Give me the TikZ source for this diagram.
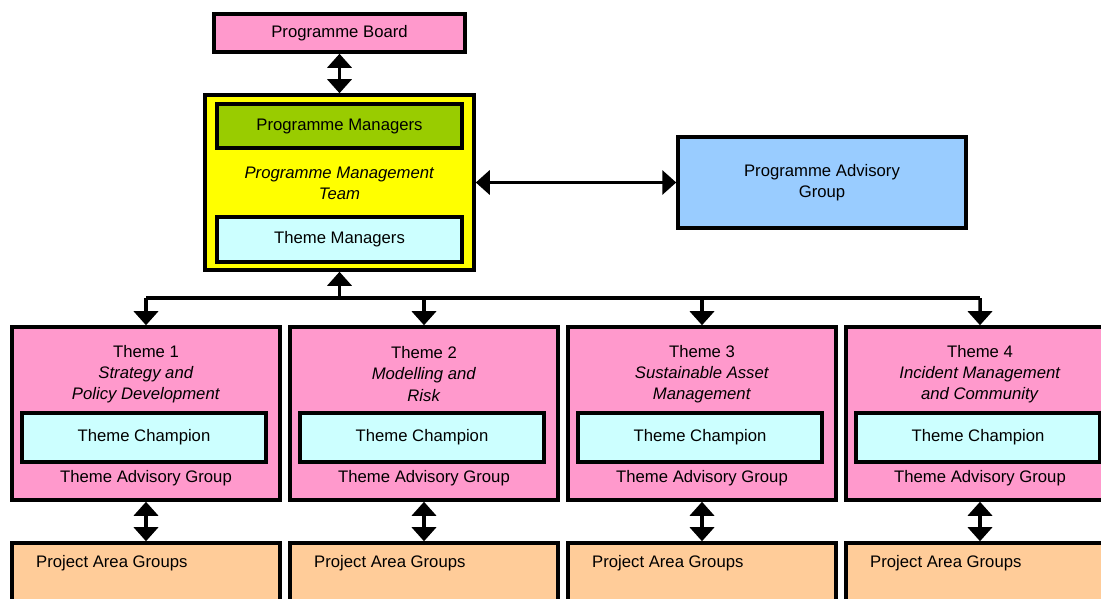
\documentclass[tikz,border=0pt]{standalone}
\usepackage{fontspec}
\setmainfont{Liberation Sans}
\usetikzlibrary{arrows.meta}
\definecolor{boardpink}{HTML}{FF99CC}
\definecolor{mgrgreen}{HTML}{99CC00}
\definecolor{teamyellow}{HTML}{FFFF00}
\definecolor{champcyan}{HTML}{CCFFFF}
\definecolor{advblue}{HTML}{99CCFF}
\definecolor{projorange}{HTML}{FFCC99}
\begin{document}
\begin{tikzpicture}[
		every node/.style={font=\fontsize{9.5}{12}\selectfont, align=center},
		box/.style={rectangle, draw, line width=2pt, inner sep=0pt},
		link/.style={line width=2pt, {Triangle[width=0.48cm,length=0.28cm]}-{Triangle[width=0.48cm,length=0.28cm]}},
		feed/.style={line width=2pt, -{Triangle[width=0.48cm,length=0.28cm]}}
	]
		\useasboundingbox (0,0) rectangle (22.02,-11.98);
		
		% Board and management team
		\node[box, fill=boardpink, minimum width=5.02cm, minimum height=0.76cm] (board) at (6.79,-0.66) {Programme Board};
		\node[box, fill=teamyellow, minimum width=5.38cm, minimum height=3.5cm] (pmt) at (6.79,-3.65) {};
		\node[box, fill=mgrgreen, minimum width=4.9cm, minimum height=0.88cm] (mgr) at (6.79,-2.52) {Programme Managers};
		\node (pmtlabel) at (6.79,-3.66) {\textit{Programme Management}\\ \textit{Team}};
		\node[box, fill=champcyan, minimum width=4.9cm, minimum height=0.9cm] (tmgr) at (6.79,-4.79) {Theme Managers};
		\node[box, fill=advblue, minimum width=5.76cm, minimum height=1.82cm] (adv) at (16.44,-3.65) {Programme Advisory\\ Group};
		\draw[link] (board) -- (pmt);
		\draw[link] (pmt) -- (adv);
		
		% Bus to themes
		\coordinate (b1) at (2.92,-5.96);
		\coordinate (b4) at (19.6,-5.96);
		\coordinate (bm) at (pmt.south |- b1);
		\draw[line width=2pt] (b1) -- (b4);
		\draw[feed] (bm) -- (pmt.south);
		
		% Theme 1
		\begin{scope}[xshift=0cm]
			\node[box, fill=boardpink, minimum width=5.36cm, minimum height=3.46cm] (t1) at (2.92,-8.27) {};
			\node (h1) at (2.92,-7.48) {Theme 1\\ \textit{Strategy and}\\ \textit{Policy Development}};
			\node[box, fill=champcyan, minimum width=4.88cm, minimum height=0.98cm] (ch1) at (2.88,-8.75) {Theme Champion};
			\node (ag1) at (2.92,-9.56) {Theme Advisory Group};
			\node[box, fill=projorange, minimum width=5.36cm, minimum height=1.6cm] (p1) at (2.92,-11.66) {};
			\node[anchor=west] (pl1) at (0.6,-11.26) {Project Area Groups};
			\draw[link] (t1) -- (p1);
		\end{scope}
		
		% Theme 2
		\begin{scope}[xshift=5.56cm]
			\node[box, fill=boardpink, minimum width=5.36cm, minimum height=3.46cm] (t2) at (2.92,-8.27) {};
			\node (h2) at (2.92,-7.48) {Theme 2\\ \textit{Modelling and}\\ \textit{Risk}};
			\node[box, fill=champcyan, minimum width=4.88cm, minimum height=0.98cm] (ch2) at (2.88,-8.75) {Theme Champion};
			\node (ag2) at (2.92,-9.56) {Theme Advisory Group};
			\node[box, fill=projorange, minimum width=5.36cm, minimum height=1.6cm] (p2) at (2.92,-11.66) {};
			\node[anchor=west] (pl2) at (0.6,-11.26) {Project Area Groups};
			\draw[link] (t2) -- (p2);
		\end{scope}
		
		% Theme 3
		\begin{scope}[xshift=11.12cm]
			\node[box, fill=boardpink, minimum width=5.36cm, minimum height=3.46cm] (t3) at (2.92,-8.27) {};
			\node (h3) at (2.92,-7.48) {Theme 3\\ \textit{Sustainable Asset}\\ \textit{Management}};
			\node[box, fill=champcyan, minimum width=4.88cm, minimum height=0.98cm] (ch3) at (2.88,-8.75) {Theme Champion};
			\node (ag3) at (2.92,-9.56) {Theme Advisory Group};
			\node[box, fill=projorange, minimum width=5.36cm, minimum height=1.6cm] (p3) at (2.92,-11.66) {};
			\node[anchor=west] (pl3) at (0.6,-11.26) {Project Area Groups};
			\draw[link] (t3) -- (p3);
		\end{scope}
		
		% Theme 4
		\begin{scope}[xshift=16.68cm]
			\node[box, fill=boardpink, minimum width=5.36cm, minimum height=3.46cm] (t4) at (2.92,-8.27) {};
			\node (h4) at (2.92,-7.48) {Theme 4\\ \textit{Incident Management}\\ \textit{and Community}};
			\node[box, fill=champcyan, minimum width=4.88cm, minimum height=0.98cm] (ch4) at (2.88,-8.75) {Theme Champion};
			\node (ag4) at (2.92,-9.56) {Theme Advisory Group};
			\node[box, fill=projorange, minimum width=5.36cm, minimum height=1.6cm] (p4) at (2.92,-11.66) {};
			\node[anchor=west] (pl4) at (0.6,-11.26) {Project Area Groups};
			\draw[link] (t4) -- (p4);
		\end{scope}
		
		% Arrows down to themes
		\draw[feed] (b1) -- (t1.north);
		\draw[feed] (t2.north |- b1) -- (t2.north);
		\draw[feed] (t3.north |- b1) -- (t3.north);
		\draw[feed] (b4) -- (t4.north);
	\end{tikzpicture}
\end{document}
